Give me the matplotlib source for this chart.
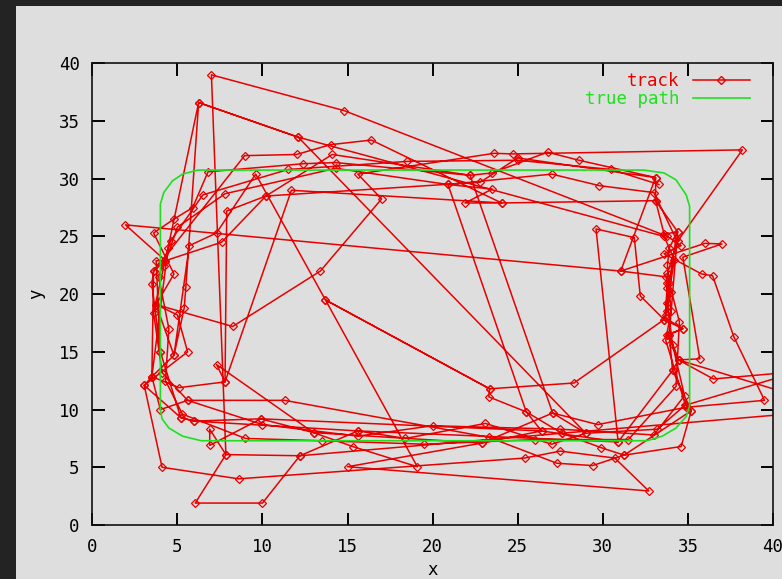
import matplotlib
matplotlib.use("Agg")
import matplotlib.pyplot as plt
from matplotlib.patches import Rectangle
from matplotlib.lines import Line2D

################################################################################
# data

track_x = [4.0, 3.5, 3.6, 4.3, 1.95, 31.05, 33.7, 34.0, 33.6, 34.7, 33.9, 34.45, 34.1, 35.2,
           34.6, 31.25, 29.9, 27.6, 25.5, 23.3, 23.35, 13.7, 19.1, 15.3, 13.0, 9.9, 6.0, 5.2, 3.05,
           3.5, 4.8, 3.75, 4.8, 3.6, 4.8, 5.9, 6.8, 12.4, 14.3, 22.2, 23.5, 26.75, 28.6, 33.1,
           33.1, 33.6, 34.4, 33.9, 33.8, 34.0, 33.7, 34.85, 33.2, 29.0, 27.0, 23.1, 18.4, 15.6, 12.2,
           10.0, 6.05, 7.85, 7.0, 14.8, 33.8, 34.6, 33.6, 35.8, 36.45, 37.7, 39.5, 34.9,
           29.7, 27.05, 22.9, 15.0, 32.7, 30.7, 27.5, 25.4, 8.6, 4.1, 3.05, 5.6, 5.0, 3.75,
           8.25, 13.4, 17.0, 15.6, 23.6, 24.7, 38.2, 34.4, 33.8, 33.7, 33.8, 33.75, 33.8, 33.7,
           34.7, 33.8, 34.45, 36.5, 41.5, 34.9, 35.2, 31.25, 29.4, 27.3, 23.3, 11.3, 5.6, 4.0,
           3.5, 4.45, 6.25, 5.5, 5.4, 4.8, 5.7, 7.3, 9.6, 13.7, 23.35, 28.3, 33.6, 32.2,
           31.85, 29.6, 30.9, 26.4, 25.5, 20.9, 23.5, 21.9, 24.05, 11.7, 7.8, 7.9, 10.2, 22.8,
           25.0, 33.1, 31.05, 36.0, 37.0, 34.7, 35.7, 34.45, 44.0, 27.6, 12.2, 7.85, 6.9, 6.9,
           9.9, 26.4, 22.9, 13.0, 7.3, 7.8, 5.1, 3.5, 3.6, 8.95, 12.0, 14.0, 16.4, 24.05,
           33.1, 34.4, 33.9, 34.1, 30.9, 15.6, 6.0, 5.2, 4.0, 3.75, 4.3, 7.6, 10.2, 14.1,
           22.2, 27.05, 29.0, 12.1, 6.25,
           12.1, 33.6, 34.2, 33.8, 34.1, 34.8, 33.0, 27.5, 20.0, 15.6, 10.0, 5.6, 4.1, 3.6,
           4.2, 5.0, 7.8, 14.3, 20.9, 27.0, 29.8, 33.0, 34.3, 33.9, 34.5, 34.3, 31.5, 26.0,
           19.5, 13.5, 9.0, 5.3, 4.3, 4.5, 3.9, 4.6, 6.5, 11.5, 18.5, 25.0, 30.5, 33.3]
track_y = [15.0, 20.9, 22.0, 22.9, 26.0, 22.0, 21.5, 20.2, 17.8, 17.0, 16.5, 14.3, 13.4, 9.9,
           6.8, 6.05, 6.7, 7.95, 9.8, 11.1, 11.8, 19.5, 5.05, 6.8, 8.0, 9.2, 9.0, 9.3, 12.1,
           12.85, 14.7, 19.1, 21.75, 25.3, 26.5, 27.5, 30.6, 31.3, 31.4, 30.3, 30.5, 32.3, 31.6, 30.1,
           28.1, 25.2, 25.4, 24.0, 22.5, 18.5, 16.0, 10.4, 8.3, 7.95, 7.0, 8.8, 7.5, 8.15, 6.0,
           1.9, 1.9, 6.1, 39.0, 35.9, 25.0, 24.2, 23.5, 21.75, 21.6, 16.3, 10.8, 10.2,
           8.7, 9.7, 7.1, 5.05, 2.95, 5.8, 6.4, 5.8, 4.0, 5.0, 12.1, 15.0, 18.2, 19.1,
           17.2, 22.0, 28.25, 30.4, 32.2, 32.15, 32.5, 24.6, 21.8, 18.2, 21.0, 18.5, 20.5, 17.9,
           17.0, 16.5, 14.3, 12.65, 13.3, 10.4, 9.9, 6.05, 5.15, 5.35, 7.6, 10.8, 10.8, 10.0,
           12.85, 24.0, 36.6, 20.65, 18.8, 14.7, 24.2, 25.3, 30.4, 19.5, 11.8, 12.3, 17.8, 19.85,
           24.9, 25.65, 7.2, 8.15, 9.8, 29.5, 29.1, 27.9, 27.9, 29.0, 12.4, 27.2, 28.5, 29.7,
           31.8, 30.1, 22.0, 24.4, 24.35, 23.2, 14.4, 14.3, 10.0, 7.95, 6.0, 6.1, 8.3, 6.9,
           9.2, 8.15, 7.1, 8.0, 13.9, 12.4, 11.9, 12.85, 22.0, 32.0, 32.1, 32.95, 33.35, 27.9,
           28.1, 25.4, 16.5, 13.4, 7.2, 8.15, 9.0, 9.3, 15.0, 22.9, 22.9, 24.5, 28.5, 32.1,
           30.3, 9.7, 7.95, 33.6, 36.6,
           33.6, 25.0, 23.0, 19.2, 15.6, 11.2, 7.8, 8.3, 8.6, 7.7, 8.7, 10.8, 13.2, 18.4,
           22.4, 25.8, 28.7, 30.9, 29.5, 30.4, 29.4, 28.8, 24.8, 21.0, 17.6, 12.0, 7.4, 7.4,
           7.0, 7.3, 7.5, 9.6, 12.5, 17.0, 21.5, 24.6, 28.6, 30.8, 31.5, 31.6, 30.8, 29.5]

true_x = [4.0, 4.0, 4.2, 4.7, 5.3, 6.2, 32.4, 33.6, 34.3, 34.9, 35.1, 35.1, 34.9, 34.3,
          33.5, 32.6, 6.4, 5.3, 4.5, 4.1, 4.0]
true_y = [10.0, 27.8, 28.8, 29.8, 30.4, 30.75, 30.75, 30.5, 29.9, 28.6, 27.6, 10.3, 9.4, 8.4,
          7.7, 7.3, 7.3, 7.7, 8.4, 9.2, 10.0]

ticks = [0, 5, 10, 15, 20, 25, 30, 35, 40]

red = '#e80000'
green = '#1ee01e'
bg = '#dedede'
mono = 'DejaVu Sans Mono'

################################################################################

plt.interactive(False)
fig = plt.figure(figsize=(7.82, 5.79), dpi=100, facecolor='#232323')
fig.add_artist(Rectangle((16 / 782, 0), 1, 1 - 6 / 579, transform=fig.transFigure,
                         facecolor=bg, edgecolor='none', zorder=-10))

ax = fig.add_axes([92.3 / 782, 54 / 579, (773 - 92.3) / 782, (525 - 63.3) / 579])
ax.set_facecolor(bg)

ax.plot(track_x, track_y, color=red, lw=1.1, marker='D', ms=4.2, mfc='none', mec=red, mew=0.9)
ax.plot(true_x, true_y, color=green, lw=1.2)

ax.set_xlim(0, 40)
ax.set_ylim(0, 40)
ax.set_xticks(ticks)
ax.set_yticks(ticks)
ax.tick_params(direction='in', length=9, width=1.4, top=True, right=True, colors='black',
               labelsize=12.5, pad=9)
for lab in ax.get_xticklabels() + ax.get_yticklabels():
    lab.set_family(mono)
for s in ax.spines.values():
    s.set_linewidth(1.2)
    s.set_color('#111111')

ax.set_xlabel('x', family=mono, fontsize=12.5, labelpad=4)
ax.set_ylabel('y', family=mono, fontsize=12.5, labelpad=10)

handles = [Line2D([], [], color=red, lw=1.1, marker='D', ms=4.2, mfc='none', mec=red),
           Line2D([], [], color=green, lw=1.2)]
leg = ax.legend(handles, ['track', 'true path'], loc='upper right', bbox_to_anchor=(0.979, 1.0),
                markerfirst=False, frameon=False, numpoints=1, handlelength=3.3,
                handletextpad=0.78, borderaxespad=0.3, borderpad=0.2, labelspacing=0.0,
                prop={'family': mono, 'size': 12.5})
for t, c in zip(leg.get_texts(), [red, green]):
    t.set_color(c)

plt.savefig('out.png', dpi=100, facecolor=fig.get_facecolor())
